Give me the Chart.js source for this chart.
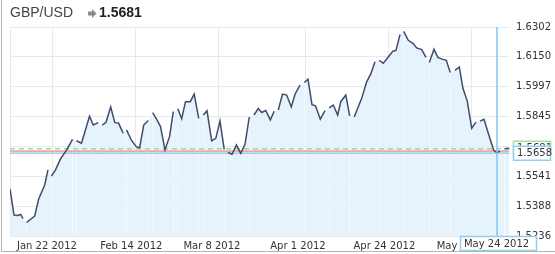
<!DOCTYPE html>
<html>
<head>
<meta charset="utf-8">
<script src="https://cdn.jsdelivr.net/npm/chart.js@4"></script>
<style>
  html, body { margin: 0; padding: 0; background: #fff; }
  canvas { display: block; }
</style>
</head>
<body>
<canvas id="fxChart" width="555" height="254"></canvas>
<script>
const PAIR = 'GBP/USD'
const LAST_RATE = 1.5681
const CURSOR_DAY = 145        // day of 2012, May 24
const CURSOR_RATE = 1.5658
const LEVEL_RATE = 1.5668

// day of year 2012 (Jan 1 = 1), null = market closed
const DAYS = [
  10.39, 11.50, 12.46, 13.35, 13.98, 14.45,
  14.95, 17.22, 18.32, 19.98, 20.89, 21.35,
  21.86, 22.97, 24.35, 26.06, 27.67, 28.3,
  28.77, 30.15, 32.37, 33.39, 34.77, 35.3,
  35.90, 36.93, 38.22, 39.36, 40.38, 41.68, 42.2,
  42.59, 44.03, 45.30, 46.21, 47.35, 48.62, 49.3,
  49.83, 50.94, 51.99, 53.23, 54.50, 55.53, 56.2,
  56.77, 57.85, 58.90, 60.23, 61.30, 62.55, 63.2,
  63.82, 64.84, 66.14, 67.27, 68.44, 69.60, 70.1,
  70.65, 71.75, 72.97, 74.16, 75.35, 76.53, 77.2,
  77.83, 79.02, 79.96, 81.09, 82.34, 83.42, 84.0,
  84.55, 85.71, 86.87, 88.14, 89.17, 90.55, 91.1,
  91.74, 92.76, 93.86, 94.83, 96.16, 97.46, 98.0,
  98.62, 99.75, 100.97, 101.82, 103.21, 104.28, 104.9,
  105.53, 107.60, 108.98, 110.12, 111.28, 111.9,
  112.47, 113.57, 114.95, 116.17, 117.08, 118.19, 118.7,
  119.21, 120.48, 121.78, 122.80, 124.19, 125.37, 125.8,
  126.29, 127.59, 128.64, 129.85, 130.98, 132.09, 132.7,
  133.39, 134.58, 135.60, 136.79, 138.01, 139.19, 139.7,
  140.30, 141.41, 142.59, 144.09, 144.92, 145.83, 146.5,
  147.07, 148.32,
]
const RATES = [
  1.5476, 1.5343, 1.5341, 1.5346, 1.5325, null,
  1.5305, 1.5338, 1.5425, 1.5496, 1.5573, null,
  1.5542, 1.5573, 1.5629, 1.5675, 1.5729, null,
  1.5722, 1.5709, 1.5847, 1.5802, 1.5814, null,
  1.5802, 1.5816, 1.5894, 1.5814, 1.5812, 1.5760, null,
  1.5777, 1.5722, 1.5692, 1.5685, 1.5802, 1.5825, null,
  1.5865, 1.5831, 1.5794, 1.5675, 1.5744, 1.5870, null,
  1.5885, 1.5834, 1.5921, 1.5921, 1.5960, 1.5836, null,
  1.5853, 1.5875, 1.5722, 1.5734, 1.5822, 1.5678, null,
  1.5662, 1.5653, 1.5700, 1.5658, 1.5704, 1.5843, null,
  1.5853, 1.5886, 1.5866, 1.5876, 1.5828, 1.5872, null,
  1.5879, 1.5960, 1.5955, 1.5894, 1.5959, 1.6006, null,
  1.6019, 1.6036, 1.5906, 1.5900, 1.5832, 1.5875, null,
  1.5889, 1.5904, 1.5853, 1.5921, 1.5955, 1.5849, null,
  1.5843, 1.5938, 1.6022, 1.6063, 1.6125, null,
  1.6132, 1.6117, 1.6149, 1.6178, 1.6183, 1.6263, null,
  1.6280, 1.6234, 1.6219, 1.6195, 1.6187, 1.6147, null,
  1.6121, 1.6189, 1.6147, 1.6138, 1.6132, 1.6070, null,
  1.6081, 1.6098, 1.5988, 1.5924, 1.5785, 1.5817, null,
  1.5822, 1.5831, 1.5760, 1.5673, 1.5662, 1.5668, null,
  1.5681, 1.5684,
]

const X_TICKS = [22, 45, 68, 92, 115, 138]
const Y_TICKS = [1.5236, 1.5388, 1.5541, 1.5693, 1.5845, 1.5997, 1.6150, 1.6302]
const MONTHS = ['Jan', 'Feb', 'Mar', 'Apr', 'May', 'Jun', 'Jul', 'Aug', 'Sep', 'Oct', 'Nov', 'Dec']

const GRID = '#e5e9f0'
const LABEL_FONT = '10px "DejaVu Sans"'

const dayLabel = (day) => {
  const d = new Date(2012, 0, Math.round(day))
  return `${MONTHS[d.getMonth()]} ${d.getDate()} ${d.getFullYear()}`
}

const gapped = (ctx, value) => (ctx.p0.skip || ctx.p1.skip ? value : undefined)

function tagBox(ctx, text, x, yMid, w, h, border) {
  ctx.save()
  ctx.fillStyle = '#fff'
  ctx.fillRect(x, yMid - h / 2, w, h)
  ctx.strokeStyle = border
  ctx.lineWidth = 1.5
  ctx.strokeRect(x + 0.5, yMid - h / 2 + 0.5, w - 1, h - 1)
  ctx.fillStyle = '#333'
  ctx.font = LABEL_FONT
  ctx.textBaseline = 'middle'
  ctx.textAlign = 'left'
  ctx.fillText(text, x + 4, yMid + 0.5)
  ctx.restore()
}

const overlay = {
  id: 'overlay',
  beforeDatasetsDraw(chart) {
    const { ctx, chartArea: a, scales: { y } } = chart
    ctx.save()
    // plot left edge
    ctx.strokeStyle = GRID
    ctx.lineWidth = 1
    ctx.beginPath()
    ctx.moveTo(a.left + 0.5, a.top)
    ctx.lineTo(a.left + 0.5, a.bottom)
    ctx.stroke()

    // last rate, dashed green
    let py = y.getPixelForValue(LAST_RATE)
    ctx.strokeStyle = '#93e28e'
    ctx.lineWidth = 1.5
    ctx.setLineDash([5, 4])
    ctx.beginPath()
    ctx.moveTo(a.left, py)
    ctx.lineTo(a.right + 4, py)
    ctx.stroke()
    ctx.setLineDash([])

    // level line, red
    py = y.getPixelForValue(LEVEL_RATE)
    ctx.strokeStyle = '#f3a6a6'
    ctx.lineWidth = 2
    ctx.beginPath()
    ctx.moveTo(a.left, py)
    ctx.lineTo(a.right, py)
    ctx.stroke()

    // cursor horizontal, blue
    py = y.getPixelForValue(CURSOR_RATE)
    ctx.strokeStyle = '#9ed2f5'
    ctx.lineWidth = 1.5
    ctx.beginPath()
    ctx.moveTo(a.left, py)
    ctx.lineTo(a.right, py)
    ctx.stroke()
    ctx.restore()
  },
  afterDatasetsDraw(chart) {
    const { ctx, chartArea: a, scales: { x } } = chart
    const px = x.getPixelForValue(CURSOR_DAY)
    ctx.save()
    ctx.strokeStyle = '#84c4f0'
    ctx.lineWidth = 1.5
    ctx.beginPath()
    ctx.moveTo(px, a.top)
    ctx.lineTo(px, a.bottom)
    ctx.stroke()
    ctx.restore()
  },
  afterDraw(chart) {
    const { ctx, chartArea: a, scales: { x, y } } = chart

    tagBox(ctx, LAST_RATE.toFixed(4), a.right + 4, y.getPixelForValue(LAST_RATE) - 0.5, 38, 15, '#9fe39b')
    tagBox(ctx, CURSOR_RATE.toFixed(4), a.right + 4, y.getPixelForValue(CURSOR_RATE), 38, 15, '#92cdf3')
    const cx = x.getPixelForValue(CURSOR_DAY)
    tagBox(ctx, dayLabel(CURSOR_DAY), cx - 37, a.bottom + 7.5, 77, 15, '#92cdf3')

    ctx.save()
    // header
    ctx.textBaseline = 'middle'
    ctx.textAlign = 'left'
    ctx.fillStyle = '#444'
    ctx.font = '14px "Liberation Sans"'
    ctx.fillText(PAIR, 10, 13.5)
    ctx.fillStyle = '#8c8c8c'
    ctx.beginPath()
    ctx.moveTo(88, 11.5)
    ctx.lineTo(92, 11.5)
    ctx.lineTo(92, 9)
    ctx.lineTo(96.5, 13.5)
    ctx.lineTo(92, 18)
    ctx.lineTo(92, 15.5)
    ctx.lineTo(88, 15.5)
    ctx.closePath()
    ctx.fill()
    ctx.fillStyle = '#222'
    ctx.font = 'bold 14px "Liberation Sans"'
    ctx.fillText(LAST_RATE.toFixed(4), 99, 13.5)

    // outer frame
    ctx.strokeStyle = '#b4b4b4'
    ctx.lineWidth = 1
    ctx.beginPath()
    ctx.moveTo(1.5, 0)
    ctx.lineTo(1.5, 251.5)
    ctx.lineTo(555, 251.5)
    ctx.stroke()
    ctx.restore()
  },
}

const points = DAYS.map((d, i) => ({ x: d, y: RATES[i] }))

new Chart(document.getElementById('fxChart'), {
  type: 'line',
  data: {
    datasets: [{
      data: points,
      borderColor: '#434a6c',
      borderWidth: 1.5,
      backgroundColor: '#e6f3fd',
      fill: 'start',
      pointRadius: 0,
      tension: 0,
      spanGaps: true,
      segment: {
        borderColor: ctx => gapped(ctx, 'rgba(0,0,0,0)'),
      },
    }],
  },
  options: {
    responsive: false,
    animation: false,
    events: [],
    layout: { padding: { left: 10, top: 27, right: 0, bottom: 0 } },
    plugins: {
      legend: { display: false },
      tooltip: { enabled: false },
      filler: { drawTime: 'beforeDatasetsDraw' },
    },
    scales: {
      x: {
        type: 'linear',
        min: DAYS[0],
        max: DAYS[DAYS.length - 1],
        afterBuildTicks: (s) => { s.ticks = X_TICKS.map(v => ({ value: v })) },
        afterFit: (s) => { s.height = 18 },
        grid: { color: GRID, drawTicks: false },
        border: { display: false },
        ticks: {
          autoSkip: false,
          maxRotation: 0,
          align: 'start',
          labelOffset: -35,
          padding: 4,
          color: '#333',
          font: { family: 'DejaVu Sans', size: 10 },
          callback: (v) => dayLabel(v),
        },
      },
      y: {
        position: 'right',
        min: Y_TICKS[0],
        max: Y_TICKS[Y_TICKS.length - 1],
        afterBuildTicks: (s) => { s.ticks = Y_TICKS.map(v => ({ value: v })) },
        afterFit: (s) => { s.width = 46 },
        grid: { color: GRID, drawTicks: false },
        border: { display: false },
        ticks: {
          padding: 7,
          color: '#333',
          font: { family: 'DejaVu Sans', size: 10 },
          callback: (v) => v.toFixed(4),
        },
      },
    },
  },
  plugins: [overlay],
})
</script>
</body>
</html>
